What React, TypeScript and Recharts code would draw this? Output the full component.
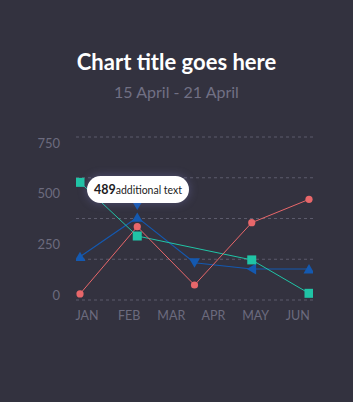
import React from 'react';
import { LineChart, Line, XAxis, YAxis, CartesianGrid, Tooltip } from 'recharts';

const months = ['JAN', 'FEB', 'MAR', 'APR', 'MAY', 'JUN'];
const steps = [0, 1, 2, 3, 4];
const redValues = [5, 337, 49, 357, 472];
const tealValues = [556, 291, null, 173, 8];
const blueValues = [189, 383, 159, 128, 128];
const blueShapes = ['up', 'up', 'down', 'left', 'up'];
const markerValues = [null, 444, null, null, null];
const yTicks = [0, 250, 500, 750];
const tooltipValue = 489;
const tooltipText = 'additional text';

const data = steps.map((s, i) => ({
  step: s,
  red: redValues[i],
  teal: tealValues[i],
  blue: blueValues[i],
  marker: markerValues[i],
}));

const RED = '#e8676a';
const TEAL = '#20c4a6';
const BLUE = '#1459b0';
const FONT = 'Lato, "Open Sans", sans-serif';

function triangle(cx: number, cy: number, dir: string, s = 5.5) {
  if (dir === 'down') return `${cx - s},${cy - s * 0.8} ${cx + s},${cy - s * 0.8} ${cx},${cy + s * 0.9}`;
  if (dir === 'left') return `${cx + s * 0.8},${cy - s} ${cx + s * 0.8},${cy + s} ${cx - s * 0.9},${cy}`;
  return `${cx - s},${cy + s * 0.8} ${cx + s},${cy + s * 0.8} ${cx},${cy - s * 0.9}`;
}

const RedDot = (p: any) => {
  if (p.value == null) return <g key={p.index} />;
  return <circle key={p.index} cx={p.cx} cy={p.cy} r={3.6} fill={RED} />;
};

const TealDot = (p: any) => {
  if (p.value == null) return <g key={p.index} />;
  return <rect key={p.index} x={p.cx - 4.5} y={p.cy - 4.5} width={9} height={9} fill={TEAL} />;
};

const BlueDot = (p: any) => {
  if (p.value == null) return <g key={p.index} />;
  return <polygon key={p.index} points={triangle(p.cx, p.cy, blueShapes[p.index])} fill={BLUE} />;
};

const MarkerDot = (p: any) => {
  if (p.value == null) return <g key={p.index} />;
  return <polygon key={p.index} points={triangle(p.cx, p.cy, 'down')} fill={BLUE} />;
};

// five evenly spaced grid lines over the plot area
const gridLines = ({ offset }: any) =>
  [0, 1, 2, 3, 4].map((k) => offset.top + (offset.height * k) / 4);

const TipContent = () => (
  <div
    style={{
      background: '#fff',
      borderRadius: 14,
      width: 102,
      height: 27,
      display: 'flex',
      alignItems: 'center',
      justifyContent: 'center',
      fontFamily: FONT,
      color: '#1b1b22',
      boxShadow: '0 0 10px rgba(140,140,220,0.35)',
      whiteSpace: 'nowrap',
    }}
  >
    <span style={{ fontWeight: 700, fontSize: 12.5 }}>{tooltipValue}</span>
    <span style={{ fontSize: 10.5 }}>{tooltipText}</span>
  </div>
);

export default function App() {
  return (
    <div
      style={{
        position: 'fixed',
        left: 0,
        top: 0,
        width: 353,
        height: 402,
        background: '#33323f',
        fontFamily: FONT,
      }}
    >
      <div
        style={{
          position: 'absolute',
          top: 48,
          width: 353,
          textAlign: 'center',
          color: '#ffffff',
          fontWeight: 700,
          fontSize: 22,
        }}
      >
        Chart title goes here
      </div>
      <div
        style={{
          position: 'absolute',
          top: 82,
          width: 353,
          textAlign: 'center',
          color: '#717084',
          fontSize: 16,
        }}
      >
        15 April - 21 April
      </div>
      <div style={{ position: 'absolute', top: 110, left: 0 }}>
        <LineChart width={353} height={230} data={data} margin={{ top: 27, right: 40, left: 16, bottom: 10 }}>
          <CartesianGrid
            vertical={false}
            horizontalCoordinatesGenerator={gridLines}
            stroke="#5c5b6c"
            strokeDasharray="3 3"
          />
          <XAxis
            xAxisId="labels"
            dataKey="step"
            type="number"
            domain={[-0.26, 5.36]}
            ticks={[0, 1, 2, 3, 4, 5]}
            tickFormatter={(v: number) => months[v]}
            allowDataOverflow
            axisLine={false}
            tickLine={false}
            tickMargin={5}
            height={30}
            tick={{ fill: '#6c6b7e', fontSize: 12.5, fontFamily: FONT }}
            interval={0}
          />
          <XAxis
            xAxisId="data"
            orientation="top"
            dataKey="step"
            type="number"
            domain={[-0.07, 4.07]}
            allowDataOverflow
            hide
          />
          <YAxis
            yAxisId="data"
            type="number"
            domain={[-25, 780]}
            ticks={yTicks}
            allowDataOverflow
            axisLine={false}
            tickLine={false}
            tickMargin={10}
            width={60}
            interval={0}
            tick={{ fill: '#6c6b7e', fontSize: 13, fontFamily: FONT }}
          />
          <Tooltip
            active
            defaultIndex={1}
            cursor={false}
            isAnimationActive={false}
            position={{ x: 87, y: 66 }}
            content={<TipContent />}
            wrapperStyle={{ outline: 'none' }}
          />
          <Line
            xAxisId="data"
            yAxisId="data"
            dataKey="blue"
            stroke={BLUE}
            strokeWidth={1.2}
            dot={BlueDot}
            activeDot={false}
            isAnimationActive={false}
          />
          <Line
            xAxisId="data"
            yAxisId="data"
            dataKey="teal"
            stroke={TEAL}
            strokeWidth={1}
            connectNulls
            dot={TealDot}
            activeDot={false}
            isAnimationActive={false}
          />
          <Line
            xAxisId="data"
            yAxisId="data"
            dataKey="red"
            stroke={RED}
            strokeWidth={1}
            dot={RedDot}
            activeDot={false}
            isAnimationActive={false}
          />
          <Line
            xAxisId="data"
            yAxisId="data"
            dataKey="marker"
            stroke="none"
            dot={MarkerDot}
            activeDot={false}
            isAnimationActive={false}
          />
        </LineChart>
      </div>
    </div>
  );
}
